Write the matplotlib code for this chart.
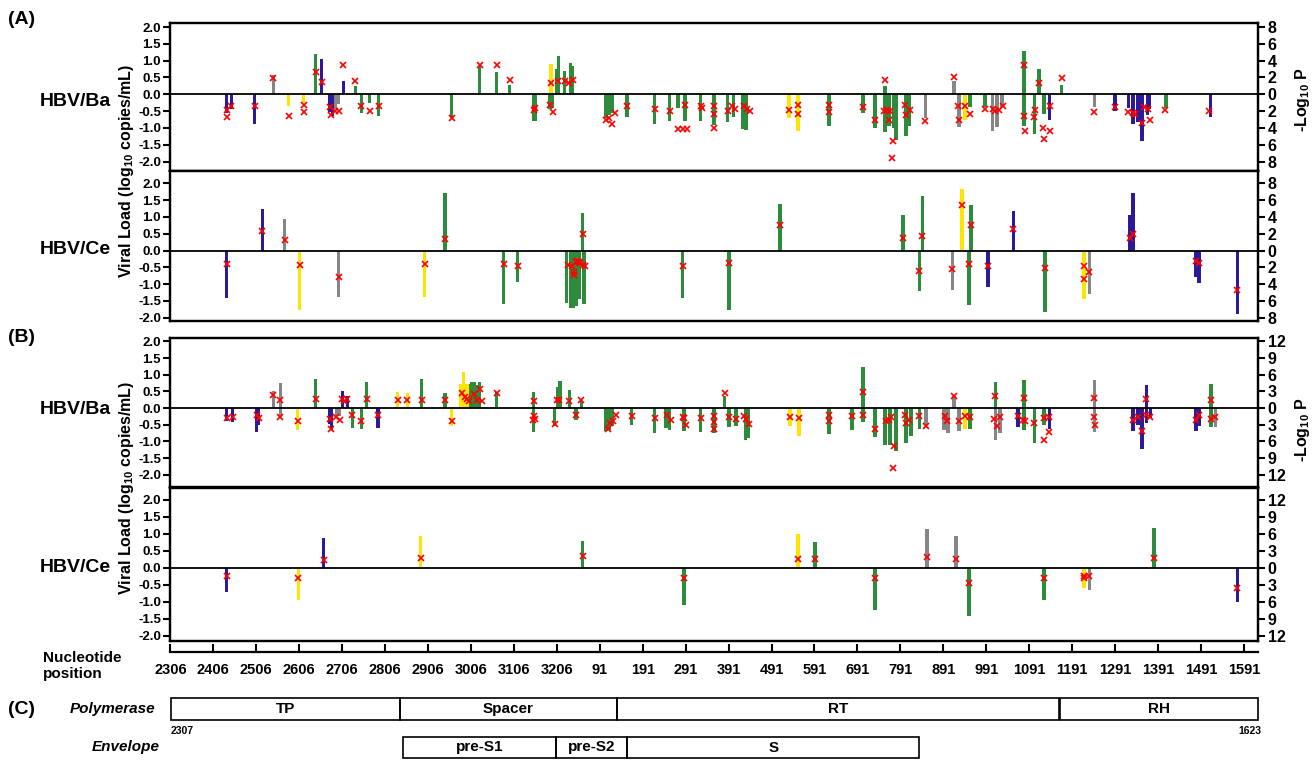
import numpy as np
import matplotlib
matplotlib.use("Agg")
import matplotlib.pyplot as plt
from matplotlib.patches import Rectangle
from matplotlib.ticker import FuncFormatter

plt.rcParams['font.family'] = ['Liberation Sans', 'DejaVu Sans']
plt.rcParams['font.weight'] = 'bold'
plt.rcParams['mathtext.fontset'] = 'custom'
plt.rcParams['mathtext.rm'] = 'Liberation Sans:bold'
plt.rcParams['mathtext.bf'] = 'Liberation Sans:bold'
plt.rcParams['mathtext.default'] = 'bf'

GENOME = 3215
START = 2306

# colour codes: b = blue, g = green, y = yellow, k = grey
COLORS = {'b': '#2c1a98', 'g': '#2e8b3c', 'y': '#ffe400', 'k': '#868686'}

# ---------------- (A) HBV/Ba : bars ----------------
aba_pos = [2437, 2448, 2502, 2546, 2581, 2616, 2644, 2658, 2677, 2684, 2690, 2698, 2709,
           2737, 2751, 2770, 2791, 2961, 3026, 3066, 3096, 3152, 3156, 3192, 3190, 3196,
           3205, 3210, 9, 23, 28, 105, 112, 120, 154, 219, 254, 273, 289, 326, 357, 389,
           403, 425, 432, 532, 553, 625, 704, 732, 755, 755, 765, 775, 781, 804, 812,
           849, 916, 928, 942, 953, 988, 1005, 1016, 1028, 1079, 1079, 1103, 1114,
           1126, 1138, 1166, 1243, 1291, 1322, 1333, 1345, 1354, 1366, 1370, 1410, 1513]
aba_val = [-0.56, -0.45, -0.87, 0.57, -0.36, -0.26, 1.19, 1.05, -0.53, -0.65, -0.45, -0.3, 0.39,
           0.24, -0.56, -0.26, -0.63, -0.7, 0.84, 0.67, 0.27, -0.78, -0.8, 0.9, -0.45, -0.4,
           0.75, 1.13, 0.69, 0.93, 0.84, -0.7, -0.62, -0.55, -0.68, -0.87, -0.78, -0.42, -0.79, -0.79, -0.9, -0.83,
           -0.66, -1.02, -1.05, -0.7, -1.1, -0.95, -0.56, -1.0, 0.24, -1.12, -0.95, -1.0, -1.35, -1.25, -0.95,
           -0.7, 0.4, -0.98, -0.75, -0.37, -0.37, -1.08, -0.98, -0.37, 1.28, -0.93, -1.17, 0.76,
           -0.6, -0.75, 0.29, -0.37, -0.5, -0.4, -0.89, -0.82, -1.38, -0.62, -0.45, -0.4, -0.68]
aba_col = ("bbbkyygbbbkkb"
           "ggggggggggygg"
           "gggggggggggggggg"
           "gggyygggggggggg"
           "kkkyggkkkggggg"
           "bgkbbbbbbbgb")
aba_mpos = [2437, 2437, 2448, 2502, 2546, 2581, 2616, 2616, 2644, 2658,
            2677, 2680, 2690, 2698, 2709, 2737, 2751, 2770, 2791, 2961,
            3026, 3066, 3096, 3152, 3156, 3192, 3190, 3198, 3208, 9,
            20, 28, 105, 112, 120, 126, 154, 219, 254, 273,
            284, 293, 289, 326, 328, 357, 357, 357, 389, 398,
            407, 428, 434, 440, 532, 553, 553, 625, 625, 704,
            732, 755, 753, 761, 766, 765, 774, 771, 801, 804,
            813, 849, 916, 926, 927, 942, 953, 988, 1006, 1012,
            1020, 1030, 1079, 1079, 1082, 1103, 1105, 1114, 1124, 1126,
            1140, 1139, 1168, 1243, 1291, 1322, 1334, 1338, 1354, 1359,
            1368, 1373, 1408, 1510]
aba_mval = [-1.91, -2.75, -1.43, -1.35, 1.95, -2.55, -1.31, -2.15, 2.67, 1.47,
            -1.55, -2.43, -2.03, -2.03, 3.54, 1.63, -1.43, -1.95, -1.35, -2.83,
            3.46, 3.46, 1.67, -1.83, -1.63, 1.35, -1.31, -2.11, 1.63, 1.63,
            1.4, 1.75, -3.02, -2.83, -3.5, -2.23, -1.43, -1.75, -2.03, -4.14,
            -4.14, -4.14, -1.23, -1.43, -1.63, -1.43, -2.35, -4.02, -2.03, -1.43,
            -1.71, -1.43, -1.75, -2.03, -1.83, -1.31, -2.31, -1.31, -2.11, -1.55,
            -3.02, 1.75, -2.03, -1.83, -1.95, -3.02, -5.61, -7.6, -1.31, -2.51,
            -1.83, -3.22, 2.03, -1.43, -3.02, -1.43, -2.31, -1.71, -1.71, -2.03,
            -1.83, -1.43, 3.46, -2.55, -4.42, -2.67, -1.83, 1.35, -4.02, -5.29,
            -1.43, -4.42, 1.95, -2.11, -1.55, -2.11, -2.23, -2.35, -3.42, -1.55,
            -1.71, -3.1, -1.83, -1.95]

# ---------------- (A) HBV/Ce ----------------
ace_pos = [2437, 2520, 2572, 2607, 2698, 2898, 2945, 3082, 3115,
           14, 23, 30, 37, 44, 54, 51,
           284, 392, 511, 797, 835, 842,
           912, 935, 956, 951, 995, 1054, 1128, 1219, 1231, 1326, 1333, 1480, 1487, 1576]
ace_val = [-1.4, 1.25, 0.95, -1.76, -1.39, -1.38, 1.7, -1.58, -0.95,
           -1.56, -1.7, -1.72, -1.65, -1.45, -1.6, 1.13,
           -1.4, -1.78, 1.4, 1.07, -1.2, 1.62,
           -1.17, 1.82, 1.37, -1.61, -1.1, 1.19, -1.82, -1.43, -1.31, 1.05, 1.7, -0.8, -0.98, -1.88]
ace_col = ("bbkykyggg"
           "ggggggg"
           "gggggg"
           "kyggbbgykbbbbb")
ace_mpos = [2437, 2520, 2572, 2607, 2698, 2898, 2945, 3082, 3115, 16,
            27, 31, 32, 35, 39, 42, 46, 51, 56, 51,
            284, 392, 511, 797, 835, 842, 912, 935, 956, 951,
            995, 1054, 1128, 1219, 1219, 1231, 1326, 1333, 1480, 1487,
            1576]
ace_mval = [-1.55, 2.3, 1.3, -1.75, -3.2, -1.55, 1.4, -1.65, -1.8, -1.68,
            -1.88, -2.5, -2.97, -1.36, -1.28, -1.4, -1.48, -1.68, -1.88, 2.0,
            -1.88, -1.48, 3.0, 1.52, -2.4, 1.72, -2.16, 5.44, 3.04, -1.56,
            -1.88, 2.52, -2.08, -1.88, -3.36, -2.56, 1.44, 2.0, -1.28, -1.48,
            -4.68]

# ---------------- (B) HBV/Ba ----------------
bba_pos = [2437, 2451, 2506, 2511, 2546, 2562, 2562, 2602, 2644, 2677, 2681, 2693, 2700, 2707,
           2719, 2730, 2751, 2763, 2789, 2835, 2858, 2891, 2945, 2961, 2982, 2988, 2995, 3001,
           3006, 3008, 3014, 3020, 3026, 3066, 3152, 3152, 3201, 3208, 3213, 20, 36, 48,
           105, 112, 120, 165, 219, 245, 254, 287, 326, 357, 382, 392, 408, 431,
           438, 534, 555, 625, 678, 704, 704, 732, 755, 767, 781, 804, 816, 835,
           851, 893, 902, 916, 928, 942, 953, 1012, 1012, 1023, 1065, 1079, 1079, 1103,
           1126, 1138, 1243, 1243, 1333, 1345, 1354, 1364, 1364, 1373, 1480, 1487, 1515, 1515,
           1525]
bba_val = [-0.39, -0.42, -0.73, -0.52, 0.5, 0.74, -0.27, -0.67, 0.88, -0.49, -0.67, -0.25, -0.25, 0.5,
           0.37, -0.6, -0.64, 0.77, -0.6, 0.47, 0.46, 0.88, 0.44, -0.55, 0.71, 1.08, 0.71, 0.71,
           0.71, 0.77, 0.77, 0.7, 0.77, 0.47, 0.47, -0.73, -0.55, 0.63, 0.8, 0.55, -0.37, 0.2,
           -0.7, -0.65, -0.55, -0.5, -0.75, -0.6, -0.65, -0.7, -0.72, -0.75, 0.35, -0.58, -0.55, -0.95,
           -0.9, -0.53, -0.83, -0.78, -0.67, 1.22, -0.42, -0.87, -1.1, -1.1, -1.3, -1.05, -0.85, -0.63,
           -0.5, -0.65, -0.75, 0.35, -0.7, -0.62, -0.62, 0.77, -0.95, -0.75, -0.58, 0.85, -0.67, -1.05,
           -0.5, -0.63, 0.85, -0.73, -0.68, -0.52, -1.22, 0.68, -0.45, -0.3, -0.7, -0.55, 0.72, -0.58,
           -0.58]
bba_col = ("bbbbkkkygbbkkb"
           "bgggbyyggyyyy"
           "ygggggggggggggg"
           "gggggggggggggg"
           "gyyggggggggggg"
           "kkkkkyggkkbggg"
           "gbkkbbbbbbbbgg"
           "k")
bba_mpos = [2437, 2451, 2508, 2512, 2546, 2562, 2562, 2602, 2644, 2677,
            2681, 2691, 2700, 2705, 2710, 2718, 2730, 2751, 2763, 2789,
            2835, 2858, 2891, 2945, 2961, 2984, 2991, 2996, 3001, 3012,
            3026, 3019, 3031, 3066, 3152, 3150, 3152, 3155, 3201, 3207,
            3211, 20, 36, 48, 110, 114, 121, 128, 165, 219,
            247, 256, 285, 287, 292, 326, 357, 357, 357, 382,
            392, 408, 427, 432, 438, 534, 555, 625, 625, 678,
            704, 704, 732, 758, 765, 769, 776, 774, 802, 805,
            812, 835, 851, 894, 900, 916, 928, 942, 953, 1012,
            1010, 1016, 1024, 1065, 1079, 1077, 1082, 1103, 1126, 1126,
            1138, 1138, 1243, 1243, 1245, 1333, 1345, 1354, 1364, 1364,
            1373, 1480, 1487, 1515, 1515, 1525]
bba_mval = [-1.8, -1.62, -1.32, -1.74, 2.4, 1.5, -1.62, -2.34, 1.56, -1.92,
            -3.84, -1.62, -2.1, 1.56, 1.2, 1.68, -1.32, -2.34, 1.68, -1.32,
            1.38, 1.5, 1.5, 1.38, -2.34, 2.7, 1.98, 1.56, 1.26, 2.58,
            3.48, 1.5, 1.26, 2.7, 1.26, -2.22, -1.5, -1.92, -2.94, 1.5,
            1.5, 1.2, -1.2, 1.5, -3.78, -2.7, -2.4, -1.2, -1.38, -1.8,
            -1.2, -2.1, -1.62, -1.8, -3.12, -1.8, -1.38, -2.58, -3.78, 2.7,
            -1.62, -1.98, -1.38, -1.98, -2.82, -1.62, -1.8, -1.2, -2.4, -1.38,
            2.88, -1.2, -3.72, -2.4, -2.1, -1.62, -6.78, -10.8, -1.2, -2.7,
            -2.22, -1.5, -3.3, -1.38, -2.4, 2.22, -2.4, -1.38, -1.68, 2.1,
            -1.98, -3.18, -1.68, -1.38, 1.8, -2.1, -2.28, -2.7, -1.8, -5.7,
            -1.62, -4.32, 1.8, -1.62, -3.12, -2.22, -1.62, -4.2, 1.62, -1.2,
            -1.62, -2.1, -1.2, 1.5, -1.98, -1.62]

# ---------------- (B) HBV/Ce ----------------
bce_pos = [2437, 2604, 2663, 2889, 51, 287, 553, 592, 732, 853, 921, 951, 1126, 1219, 1231,
           1382, 1576]
bce_val = [-0.72, -0.95, 0.87, 0.94, 0.78, -1.1, 1.01, 0.77, -1.25, 1.15, 0.93, -1.4, -0.95,
           -0.6, -0.65, 1.17, -1.0]
bce_col = "bybygggyggkkggykgb"[:0] + "byby" "gg" "yg" "g" "kk" "gg" "yk" "gb"
bce_mpos = [2437, 2604, 2663, 2889, 51, 287, 553, 592, 732, 853, 921, 951, 1126, 1219, 1219,
            1231, 1382, 1576]
bce_mval = [-1.5, -1.8, 1.46, 1.75, 2.15, -1.8, 1.56, 1.56, -1.8, 1.96, 1.56, -2.7, -1.8, -1.8,
            -1.5, -1.5, 1.8, -3.6]

# ---------------- ruler / genes ----------------
tick_pos = [2306, 2406, 2506, 2606, 2706, 2806, 2906, 3006, 3106, 3206,
            91, 191, 291, 391, 491, 591, 691, 791, 891, 991, 1091, 1191, 1291, 1391, 1491, 1591]
pol_names = ['TP', 'Spacer', 'RT', 'RH']
pol_start = [2307, 2841, 131, 1162]
pol_end = [2840, 130, 1161, 1623]
env_names = ['pre-S1', 'pre-S2', 'S']
env_start = [2848, 3205, 155]
env_end = [3204, 154, 835]


def lin(p):
    p = np.asarray(p)
    return np.where(p >= START, p - START, p + GENOME - START)


W_FIG, H_FIG = 1316, 760
LEFT, RIGHT = 170, 1258
XMAX = float(lin(1623)) + 1

fig = plt.figure(figsize=(W_FIG / 100, H_FIG / 100), dpi=100)


def rect(top, bottom):
    return [LEFT / W_FIG, 1 - bottom / H_FIG, (RIGHT - LEFT) / W_FIG, (bottom - top) / H_FIG]


panels = [
    (aba_pos, aba_val, aba_col, aba_mpos, aba_mval, 23, 171, (-2.28, 2.12), 4, 'HBV/Ba', 101),
    (ace_pos, ace_val, ace_col, ace_mpos, ace_mval, 171, 321, (-2.1, 2.37), 4, 'HBV/Ce', 250),
    (bba_pos, bba_val, bba_col, bba_mpos, bba_mval, 338, 487, (-2.37, 2.1), 6, 'HBV/Ba', 410),
    (bce_pos, bce_val, bce_col, bce_mpos, bce_mval, 488, 641, (-2.15, 2.35), 6, 'HBV/Ce', 567),
]

for pos, val, col, mpos, mval, top, bot, ylim, fac, name, ylab in panels:
    ax = fig.add_axes(rect(top, bot))
    ax.bar(lin(pos), val, width=8, color=[COLORS[c] for c in col], linewidth=0, zorder=2)
    ax.axhline(0, color='black', lw=1.3, zorder=3)
    ax.set_xlim(-1, XMAX)
    ax.set_ylim(*ylim)
    ax.set_yticks(np.arange(-2.0, 2.01, 0.5))
    ax.yaxis.set_major_formatter(FuncFormatter(lambda v, p: f'{v:.1f}'))
    ax.set_xticks([])
    ax.tick_params(axis='y', direction='out', length=5, width=1.5, labelsize=9.5, pad=1.5)
    for s in ax.spines.values():
        s.set_linewidth(1.6)
    ax2 = ax.twinx()
    ax2.set_ylim(ylim[0] * fac, ylim[1] * fac)
    ax2.plot(lin(mpos), mval, 'x', color='red', ms=4.5, mew=1.2, zorder=4)
    step = 2 if fac == 4 else 3
    ax2.set_yticks(np.arange(-4 * step, 4 * step + 1, step))
    ax2.yaxis.set_major_formatter(FuncFormatter(lambda v, p: f'{abs(v):.0f}'))
    ax2.tick_params(axis='y', direction='out', length=5, width=1.5, labelsize=11.5, pad=2)
    for s in ax2.spines.values():
        s.set_linewidth(1.6)
    fig.text(40 / W_FIG, 1 - ylab / H_FIG, name, fontsize=14, fontweight='bold', va='center')

for lab, y in [('(A)', 20), ('(B)', 338), ('(C)', 710)]:
    fig.text(8 / W_FIG, 1 - y / H_FIG, lab, fontsize=14, fontweight='bold', va='center')

for yc, yr in [(171, 100), (488, 430)]:
    fig.text(127 / W_FIG, 1 - yc / H_FIG, 'Viral Load (log$_{10}$ copies/mL)', rotation=90,
             fontsize=11.5, fontweight='bold', ha='center', va='center')
    fig.text(1302 / W_FIG, 1 - yr / H_FIG, '-Log$_{10}$ P', rotation=90,
             fontsize=11.5, fontweight='bold', ha='center', va='center')

# nucleotide ruler
axr = fig.add_axes([LEFT / W_FIG, 1 - 652 / H_FIG, (RIGHT - LEFT) / W_FIG, 0.0001])
axr.set_xlim(-1, XMAX)
axr.set_yticks([])
for s in ['top', 'left', 'right']:
    axr.spines[s].set_visible(False)
axr.spines['bottom'].set_linewidth(1.6)
axr.set_xticks(lin(tick_pos))
axr.set_xticklabels([str(t) for t in tick_pos])
axr.tick_params(axis='x', direction='in', length=6, width=1.5, labelsize=10.5, pad=8)
fig.text(43 / W_FIG, 1 - 666 / H_FIG, 'Nucleotide\nposition', fontsize=11, fontweight='bold',
         va='center', ha='left', linespacing=1.1)

# gene maps
axg = fig.add_axes([LEFT / W_FIG, 0, (RIGHT - LEFT) / W_FIG, 70 / H_FIG])
axg.set_xlim(-1, XMAX)
axg.set_ylim(760, 690)
axg.axis('off')


def gene_boxes(names, starts, ends, y0, y1):
    for nm, s, e in zip(names, starts, ends):
        x0, x1 = float(lin(s)), float(lin(e))
        axg.add_patch(Rectangle((x0, y0), x1 - x0, y1 - y0, fill=False, lw=1.2,
                                edgecolor='black', clip_on=False))
        axg.text((x0 + x1) / 2, (y0 + y1) / 2, nm, ha='center', va='center',
                 fontsize=11, fontweight='bold')


gene_boxes(pol_names, pol_start, pol_end, 698, 720)
gene_boxes(env_names, env_start, env_end, 737, 758)
axg.text(float(lin(pol_start[0])), 731, str(pol_start[0]), fontsize=7.5, fontweight='bold',
         ha='left', va='center')
axg.text(float(lin(pol_end[-1])) + 8, 731, str(pol_end[-1]), fontsize=7.5, fontweight='bold',
         ha='right', va='center')
fig.text(155 / W_FIG, 1 - 709 / H_FIG, 'Polymerase', fontsize=11, fontweight='bold',
         style='italic', ha='right', va='center')
fig.text(160 / W_FIG, 1 - 747 / H_FIG, 'Envelope', fontsize=11, fontweight='bold',
         style='italic', ha='right', va='center')

fig.savefig('out.png', dpi=100)
